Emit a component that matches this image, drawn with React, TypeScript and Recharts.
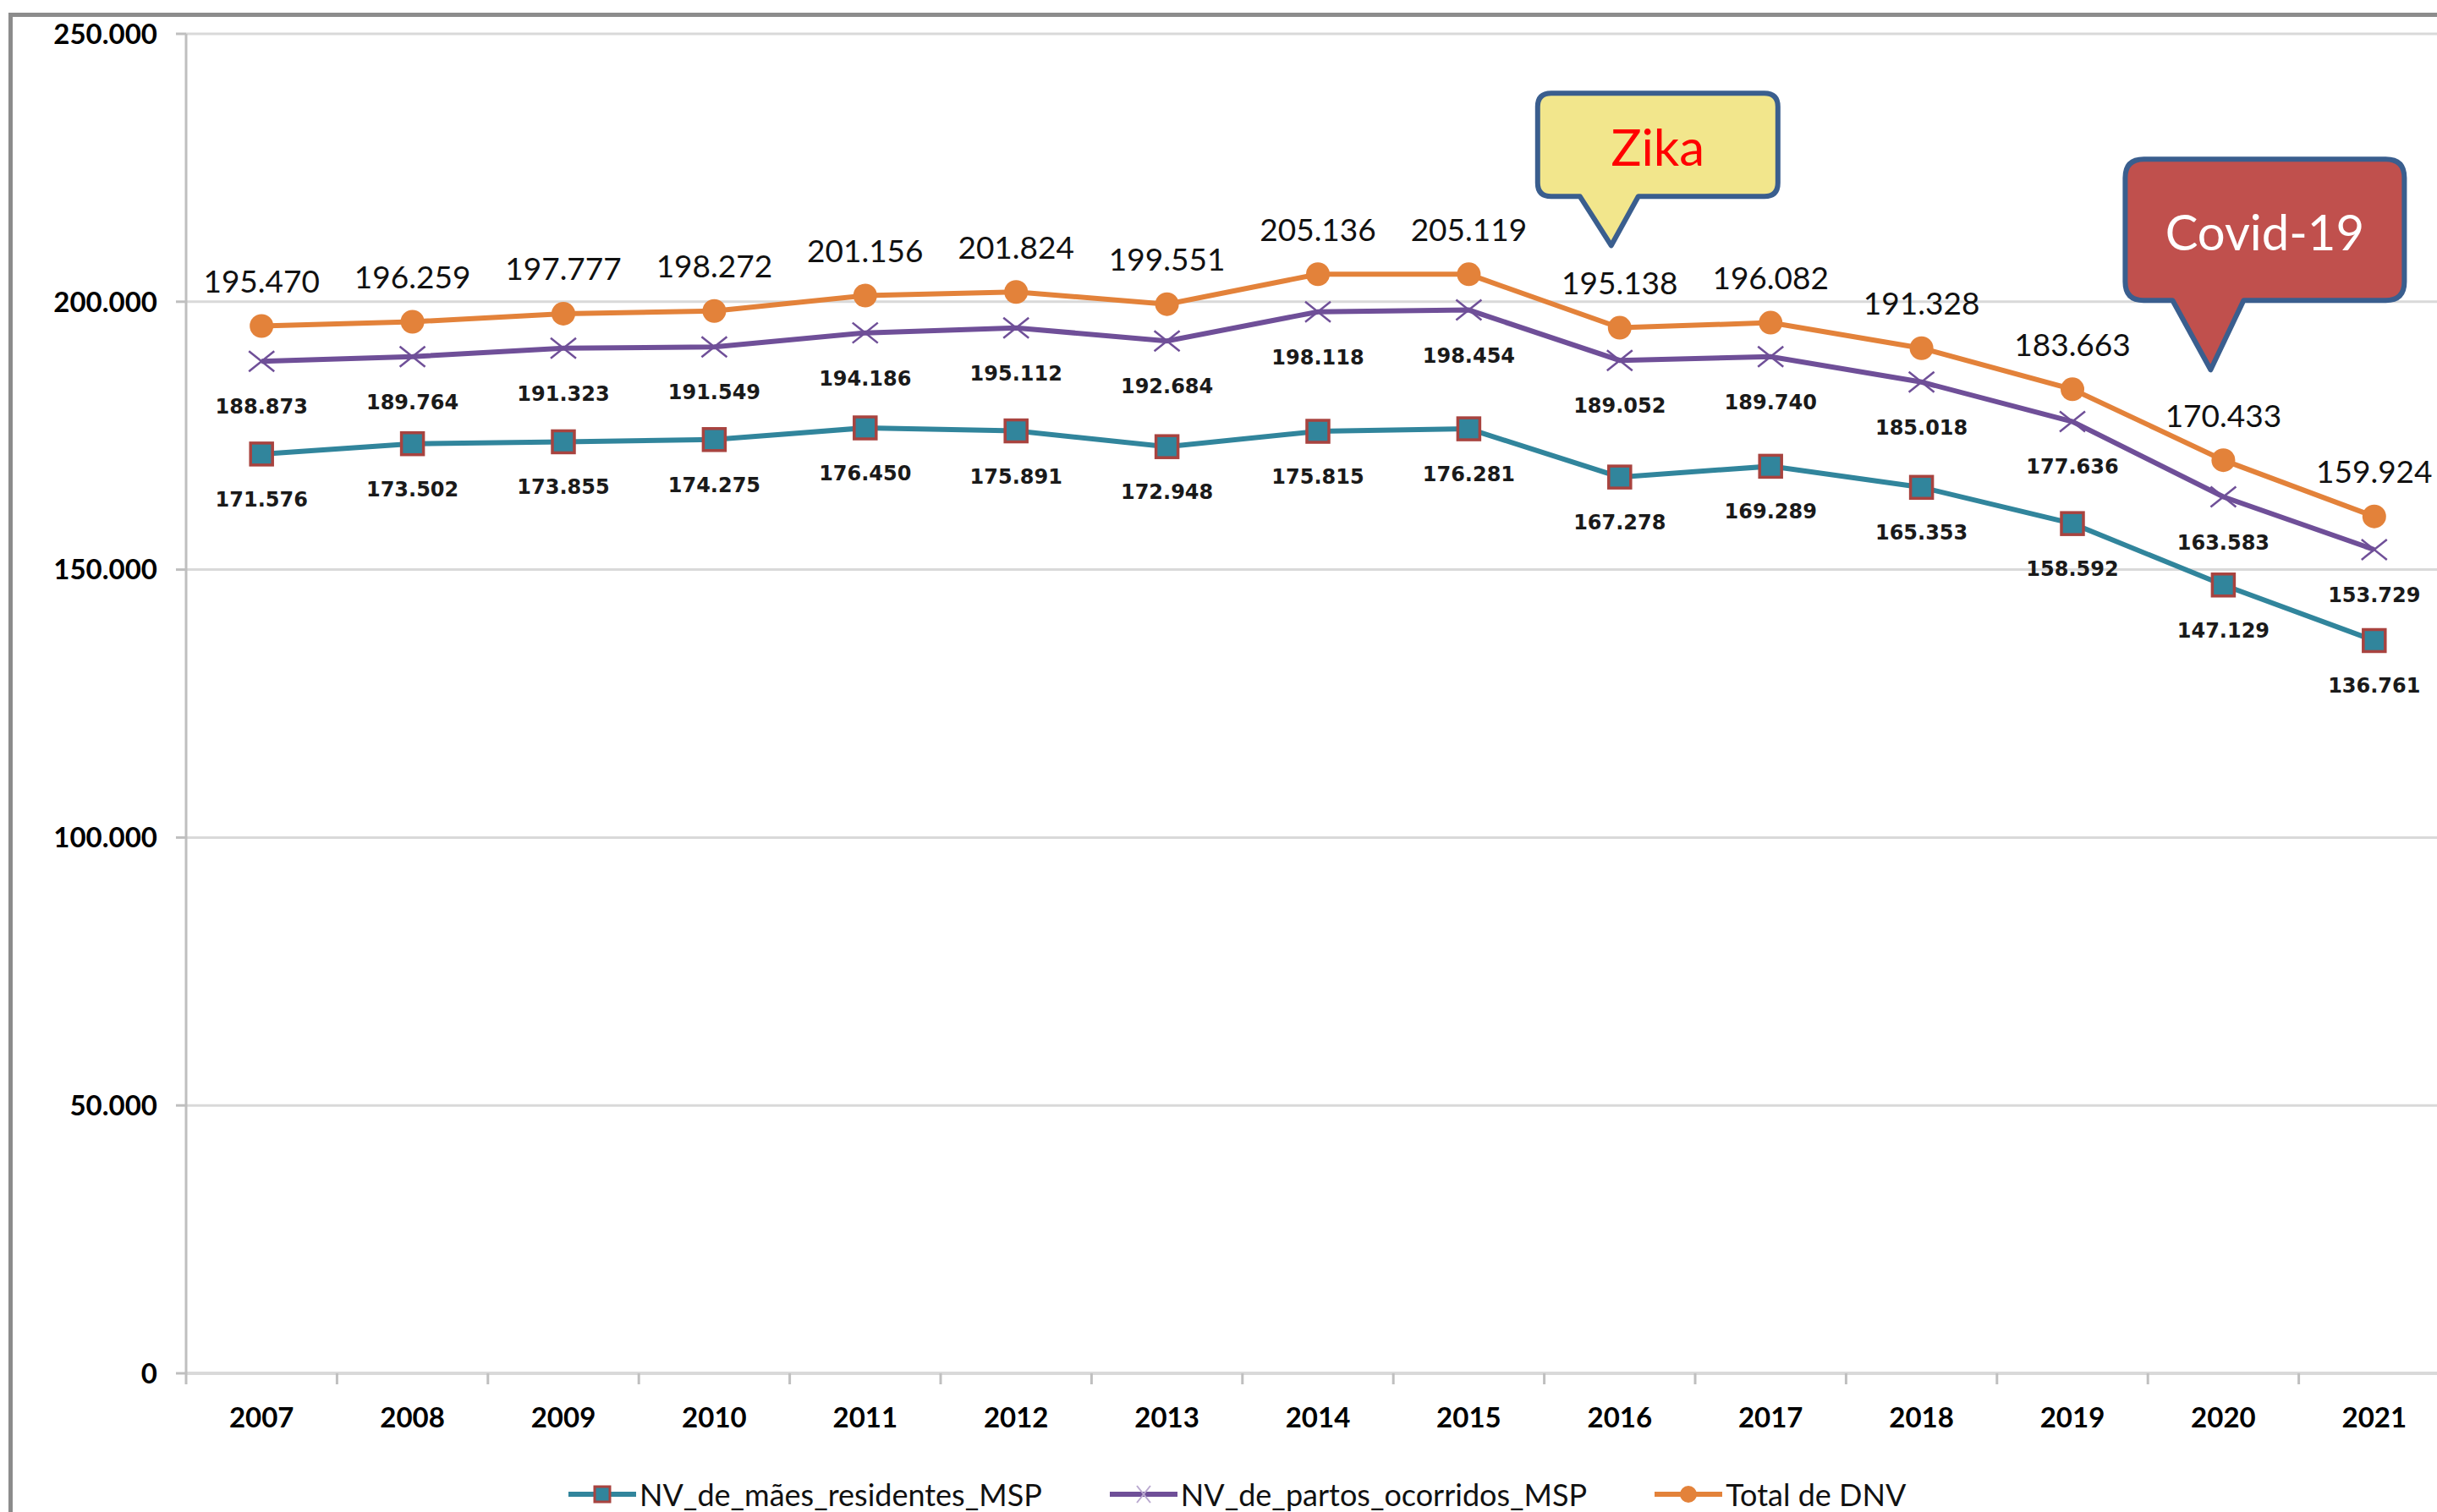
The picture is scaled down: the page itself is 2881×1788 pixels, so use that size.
import React from 'react';
import { LineChart, Line, XAxis, YAxis, CartesianGrid, LabelList, ReferenceDot, Legend } from 'recharts';

const years = ['2007', '2008', '2009', '2010', '2011', '2012', '2013', '2014', '2015', '2016', '2017', '2018', '2019', '2020', '2021'];
const maesResidentes = [171576, 173502, 173855, 174275, 176450, 175891, 172948, 175815, 176281, 167278, 169289, 165353, 158592, 147129, 136761];
const partosOcorridos = [188873, 189764, 191323, 191549, 194186, 195112, 192684, 198118, 198454, 189052, 189740, 185018, 177636, 163583, 153729];
const totalDNV = [195470, 196259, 197777, 198272, 201156, 201824, 199551, 205136, 205119, 195138, 196082, 191328, 183663, 170433, 159924];
const yTicks = [0, 50000, 100000, 150000, 200000, 250000];

const seriesNames = {
  maes: 'NV_de_mães_residentes_MSP',
  partos: 'NV_de_partos_ocorridos_MSP',
  total: 'Total de DNV',
};

const annotations = [
  { year: '2016', tip: 210500, text: 'Zika' },
  { year: '2020', tip: 187300, text: 'Covid-19' },
];

const data = years.map((year, i) => ({
  year,
  maes: maesResidentes[i],
  partos: partosOcorridos[i],
  total: totalDNV[i],
}));

const TEAL = '#31859C';
const SQUARE_EDGE = '#A8433F';
const PURPLE = '#6F4F98';
const ORANGE = '#E3823A';
const GRID = '#D9D9D9';
const AXIS = '#BFBFBF';
const CALLOUT_EDGE = '#3A5E8E';

const fmt = (v: number) => String(v).replace(/\B(?=(\d{3})+(?!\d))/g, '.');

const SquareDot = (p: any) => (
  <rect key={`sq-${p.index}`} x={p.cx - 13} y={p.cy - 13} width={26} height={26} fill={TEAL} stroke={SQUARE_EDGE} strokeWidth={3.5} />
);
const CrossDot = (p: any) => (
  <g key={`x-${p.index}`}>
    <line x1={p.cx - 15} y1={p.cy - 12} x2={p.cx + 15} y2={p.cy + 12} stroke={PURPLE} strokeWidth={2.5} />
    <line x1={p.cx - 15} y1={p.cy + 12} x2={p.cx + 15} y2={p.cy - 12} stroke={PURPLE} strokeWidth={2.5} />
  </g>
);
const CircleDot = (p: any) => <circle key={`c-${p.index}`} cx={p.cx} cy={p.cy} r={14} fill={ORANGE} />;

const SmallLabel = (p: any) => (
  <text x={p.x} y={p.y + 54} textAnchor="middle" dominantBaseline="central" fontFamily="DejaVu Sans" fontWeight="bold" fontSize={24} fill="#1a1a1a">
    {fmt(p.value)}
  </text>
);
const BigLabel = (p: any) => (
  <text x={p.x} y={p.y - 54} textAnchor="middle" dominantBaseline="central" fontFamily="Lato" fontSize={37} fill="#111">
    {fmt(p.value)}
  </text>
);

const XTick = (p: any) => {
  const { x, y, payload, index, visibleTicksCount } = p;
  const w = typeof p.width === 'number' ? p.width : 2676;
  const n = visibleTicksCount || years.length;
  const step = w / n;
  return (
    <g>
      <line x1={x - step / 2} x2={x - step / 2} y1={y} y2={y + 13} stroke={AXIS} strokeWidth={3} />
      {index === n - 1 && <line x1={x + step / 2} x2={x + step / 2} y1={y} y2={y + 13} stroke={AXIS} strokeWidth={3} />}
      <text x={x} y={y + 51} textAnchor="middle" dominantBaseline="central" fontFamily="Lato" fontWeight="bold" fontSize={33} fill="#000">
        {payload.value}
      </text>
    </g>
  );
};

const calloutPath = (x1: number, y1: number, x2: number, y2: number, r: number, tl: number, tr: number, tx: number, ty: number) =>
  `M${x1 + r},${y1} H${x2 - r} Q${x2},${y1} ${x2},${y1 + r} V${y2 - r} Q${x2},${y2} ${x2 - r},${y2} H${tr} L${tx},${ty} L${tl},${y2} H${x1 + r} Q${x1},${y2} ${x1},${y2 - r} V${y1 + r} Q${x1},${y1} ${x1 + r},${y1} Z`;

const ZikaCallout = (p: any) => {
  const { cx, cy } = p;
  return (
    <g>
      <path d={calloutPath(cx - 97, cy - 180, cx + 187, cy - 58, 16, cx - 47, cx + 22, cx - 10, cy)} fill="#F2E68C" stroke={CALLOUT_EDGE} strokeWidth={6} strokeLinejoin="round" />
      <text x={cx + 45} y={cy - 117} textAnchor="middle" dominantBaseline="central" fontFamily="Lato" fontSize={60} fill="#FF0000">
        {annotations[0].text}
      </text>
    </g>
  );
};
const CovidCallout = (p: any) => {
  const { cx, cy } = p;
  return (
    <g>
      <path d={calloutPath(cx - 116, cy - 249, cx + 214, cy - 82, 22, cx - 60, cx + 24, cx - 15, cy)} fill="#C0504D" stroke={CALLOUT_EDGE} strokeWidth={6} strokeLinejoin="round" />
      <text x={cx + 49} y={cy - 164} textAnchor="middle" dominantBaseline="central" fontFamily="Lato" fontSize={58} fill="#FFFFFF">
        {annotations[1].text}
      </text>
    </g>
  );
};

const LegendMarker = ({ k }: { k: string }) => {
  const color = k === 'maes' ? TEAL : k === 'partos' ? PURPLE : ORANGE;
  return (
    <svg width={80} height={40} style={{ display: 'block' }}>
      <line x1={0} x2={80} y1={20} y2={20} stroke={color} strokeWidth={6} />
      {k === 'maes' && <rect x={31} y={11} width={18} height={18} fill={TEAL} stroke={SQUARE_EDGE} strokeWidth={3} />}
      {k === 'partos' && (
        <g stroke="#B9A8CF" strokeWidth={2}>
          <line x1={32} y1={10} x2={48} y2={30} />
          <line x1={32} y1={30} x2={48} y2={10} />
        </g>
      )}
      {k === 'total' && <circle cx={40} cy={20} r={10} fill={ORANGE} />}
    </svg>
  );
};

const LegendContent = (props: any) => {
  const items = (props.payload || []) as any[];
  return (
    <div style={{ display: 'flex', alignItems: 'center', height: 44 }}>
      {items.map((it) => (
        <div key={it.dataKey} style={{ display: 'flex', alignItems: 'center', marginRight: 80 }}>
          <LegendMarker k={it.dataKey} />
          <span style={{ marginLeft: 4, fontFamily: 'Lato', fontSize: 36, color: '#111', whiteSpace: 'nowrap', lineHeight: '40px' }}>{it.value}</span>
        </div>
      ))}
    </div>
  );
};

export default function App() {
  return (
    <div style={{ position: 'absolute', left: 0, top: 0, width: 2881, height: 1788, overflow: 'hidden', background: '#fff' }}>
      <div style={{ position: 'absolute', left: 10, top: 15, width: 2950, height: 1850, border: '5px solid #8C8C8C', boxSizing: 'border-box' }} />
      <div style={{ position: 'absolute', left: 0, top: 0 }}>
        <LineChart width={2900} height={1788} data={data} margin={{ top: 40, right: 4, bottom: 64, left: 0 }}>
          <CartesianGrid vertical={false} stroke={GRID} strokeWidth={3} />
          <XAxis dataKey="year" scale="band" interval={0} height={100} tickLine={false} tickSize={0} tickMargin={0} axisLine={{ stroke: GRID, strokeWidth: 4 }} tick={<XTick />} />
          <YAxis
            type="number"
            domain={[0, 250000]}
            ticks={yTicks}
            tickFormatter={fmt}
            width={220}
            tickSize={12}
            tickMargin={22}
            axisLine={{ stroke: AXIS, strokeWidth: 3 }}
            tickLine={{ stroke: AXIS, strokeWidth: 3 }}
            tick={{ fontFamily: 'Lato', fontWeight: 'bold', fontSize: 33, fill: '#000' }}
          />
          <Line dataKey="maes" name={seriesNames.maes} stroke={TEAL} strokeWidth={6} dot={SquareDot} activeDot={false} isAnimationActive={false}>
            <LabelList dataKey="maes" content={SmallLabel} />
          </Line>
          <Line dataKey="partos" name={seriesNames.partos} stroke={PURPLE} strokeWidth={6} dot={CrossDot} activeDot={false} isAnimationActive={false}>
            <LabelList dataKey="partos" content={SmallLabel} />
          </Line>
          <Line dataKey="total" name={seriesNames.total} stroke={ORANGE} strokeWidth={6} dot={CircleDot} activeDot={false} isAnimationActive={false}>
            <LabelList dataKey="total" content={BigLabel} />
          </Line>
          <ReferenceDot x={annotations[0].year} y={annotations[0].tip} r={0} ifOverflow="visible" shape={ZikaCallout} />
          <ReferenceDot x={annotations[1].year} y={annotations[1].tip} r={0} ifOverflow="visible" shape={CovidCallout} />
          <Legend layout="horizontal" verticalAlign="middle" align="center" wrapperStyle={{ top: 1745, left: 672, width: 2100, height: 44 }} content={LegendContent} />
        </LineChart>
      </div>
    </div>
  );
}
